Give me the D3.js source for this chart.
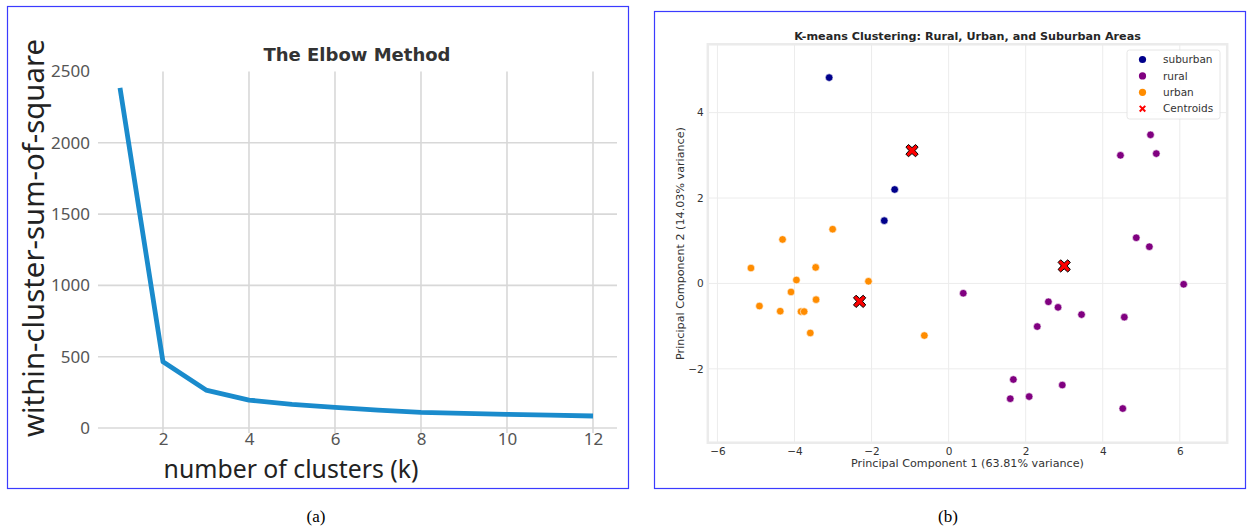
<!DOCTYPE html>
<html>
<head>
<meta charset="utf-8">
<script src="https://cdn.jsdelivr.net/npm/d3@7"></script>
<style>
  html, body { margin: 0; padding: 0; background: #fff; }
  svg { display: block; }
</style>
</head>
<body>
<svg id="fig" width="1247" height="528"></svg>
<script>
// ---------- Elbow curve data ----------
const kValues = [1, 2, 3, 4, 5, 6, 7, 8, 9, 10, 11, 12];
const wcssValues = [2385, 464, 266, 196, 166, 145, 126, 110, 103, 96, 90, 84];
const elbowXTicks = [2, 4, 6, 8, 10, 12];
const elbowYTicks = [0, 500, 1000, 1500, 2000, 2500];

// ---------- PCA scatter data ----------
const suburbanPC1 = [-3.10, -1.40, -1.67];
const suburbanPC2 = [4.82, 2.20, 1.47];
const ruralPC1 = [5.24, 4.46, 5.39, 4.87, 5.21, 6.10, 0.38, 2.59, 2.84, 3.45, 2.30, 4.56, 1.68, 1.60, 2.09, 2.95, 4.52];
const ruralPC2 = [3.48, 3.00, 3.04, 1.07, 0.86, -0.02, -0.23, -0.43, -0.56, -0.73, -1.01, -0.79, -2.25, -2.70, -2.65, -2.38, -2.93];
const urbanPC1 = [-3.01, -4.31, -5.13, -3.45, -3.95, -2.08, -4.09, -4.91, -3.44, -4.37, -3.83, -3.75, -3.59, -0.63];
const urbanPC2 = [1.27, 1.03, 0.36, 0.375, 0.08, 0.05, -0.20, -0.53, -0.38, -0.65, -0.66, -0.66, -1.16, -1.22];
const centroidPC1 = [-0.95, 3.00, -2.31];
const centroidPC2 = [3.11, 0.41, -0.42];
const pcXTicks = [-6, -4, -2, 0, 2, 4, 6];
const pcYTicks = [-2, 0, 2, 4];
const legendLabels = ["suburban", "rural", "urban", "Centroids"];
const legendColors = ["#00008b", "#800080", "#ff8c00", "#ff0000"];

const svg = d3.select("#fig");

// scale a text element's font size so it spans the requested width
function fitWidth(sel, width) {
  const node = sel.node();
  const fs = parseFloat(sel.attr("font-size"));
  const w = node.getComputedTextLength();
  sel.attr("font-size", (fs * width / w).toFixed(2));
}
const signed = d => String(d).replace("-", "\u2212");

// ---------- panel frames ----------
svg.append("rect").attr("x", 7.5).attr("y", 6.5).attr("width", 621).attr("height", 482)
  .attr("fill", "none").attr("stroke", "#3b3bff").attr("stroke-width", 1.2);
svg.append("rect").attr("x", 654.5).attr("y", 11.5).attr("width", 591).attr("height", 477)
  .attr("fill", "none").attr("stroke", "#3b3bff").attr("stroke-width", 1.2);

svg.append("text").attr("x", 316).attr("y", 522).attr("text-anchor", "middle")
  .attr("font-family", "Liberation Serif, serif").attr("font-size", 17).attr("fill", "#000").text("(a)");
svg.append("text").attr("x", 948).attr("y", 522).attr("text-anchor", "middle")
  .attr("font-family", "Liberation Serif, serif").attr("font-size", 17).attr("fill", "#000").text("(b)");

// ================= (a) Elbow method =================
(function () {
  const x = d3.scaleLinear().domain([1, 12]).range([120, 593]);
  const y = d3.scaleLinear().domain([0, 2500]).range([428, 71.5]);
  const g = svg.append("g");
  const gridColor = "#d8d8d8";

  // horizontal grid
  g.selectAll("line.hg").data(elbowYTicks.filter(v => v < 2500)).join("line")
    .attr("x1", 98).attr("x2", 617)
    .attr("y1", d => y(d)).attr("y2", d => y(d))
    .attr("stroke", gridColor).attr("stroke-width", 1.6);
  // vertical grid
  g.selectAll("line.vg").data(elbowXTicks).join("line")
    .attr("x1", d => x(d)).attr("x2", d => x(d))
    .attr("y1", y(2500)).attr("y2", y(-35))
    .attr("stroke", gridColor).attr("stroke-width", 1.6);

  // tick labels via axes (no domain / tick lines)
  const yAxis = g.append("g").attr("transform", "translate(98,0)")
    .call(d3.axisLeft(y).tickValues(elbowYTicks).tickSize(0).tickPadding(8).tickFormat(d => String(d)));
  yAxis.select(".domain").remove();
  yAxis.selectAll("text").attr("font-family", "Noto Sans, sans-serif").attr("font-size", 17).attr("fill", "#555");

  const xAxis = g.append("g").attr("transform", "translate(0,430)")
    .call(d3.axisBottom(x).tickValues(elbowXTicks).tickSize(0).tickPadding(3).tickFormat(d => String(d)));
  xAxis.select(".domain").remove();
  xAxis.selectAll("text").attr("font-family", "Noto Sans, sans-serif").attr("font-size", 17).attr("fill", "#555");

  // curve
  const line = d3.line().x((d, i) => x(kValues[i])).y(d => y(d));
  g.append("path").datum(wcssValues).attr("d", line)
    .attr("fill", "none").attr("stroke", "#1a8bcc").attr("stroke-width", 4.8)
    .attr("stroke-linejoin", "round").attr("stroke-linecap", "butt");

  // titles
  const t = g.append("text").attr("x", 357).attr("y", 61).attr("text-anchor", "middle")
    .attr("font-family", "DejaVu Sans, sans-serif").attr("font-weight", "bold")
    .attr("font-size", 16).attr("fill", "#333").text("The Elbow Method");
  fitWidth(t, 187);

  const xl = g.append("text").attr("x", 291).attr("y", 478).attr("text-anchor", "middle")
    .attr("font-family", "Noto Sans, sans-serif").attr("font-size", 24).attr("fill", "#222")
    .text("number of clusters (k)");
  fitWidth(xl, 255);

  const yl = g.append("text").attr("transform", "translate(44,238) rotate(-90)").attr("text-anchor", "middle")
    .attr("font-family", "Noto Sans, sans-serif").attr("font-size", 28).attr("fill", "#222")
    .text("within-cluster-sum-of-square");
  fitWidth(yl, 398);
})();

// ================= (b) K-means PCA scatter =================
(function () {
  const L = 707.8, R = 1227.2, T = 44.3, B = 442.7;
  const x = d3.scaleLinear().domain([-6.25, 7.23]).range([L, R]);
  const y = d3.scaleLinear().domain([-3.73, 5.60]).range([B, T]);
  const g = svg.append("g");
  const font = "DejaVu Sans, sans-serif";

  // grid
  g.selectAll("line.vg").data(pcXTicks).join("line")
    .attr("x1", d => x(d)).attr("x2", d => x(d)).attr("y1", T).attr("y2", B)
    .attr("stroke", "#ececec").attr("stroke-width", 1);
  g.selectAll("line.hg").data(pcYTicks).join("line")
    .attr("x1", L).attr("x2", R).attr("y1", d => y(d)).attr("y2", d => y(d))
    .attr("stroke", "#ececec").attr("stroke-width", 1);
  // axes frame
  g.append("rect").attr("x", L).attr("y", T).attr("width", R - L).attr("height", B - T)
    .attr("fill", "none").attr("stroke", "#ebebeb").attr("stroke-width", 2.5);

  const xAxis = g.append("g").attr("transform", `translate(0,${B})`)
    .call(d3.axisBottom(x).tickValues(pcXTicks).tickSize(0).tickPadding(5).tickFormat(signed));
  xAxis.select(".domain").remove();
  xAxis.selectAll("text").attr("font-family", font).attr("font-size", 10.5).attr("fill", "#333");

  const yAxis = g.append("g").attr("transform", `translate(${L},0)`)
    .call(d3.axisLeft(y).tickValues(pcYTicks).tickSize(0).tickPadding(4).tickFormat(signed));
  yAxis.select(".domain").remove();
  yAxis.selectAll("text").attr("font-family", font).attr("font-size", 10.5).attr("fill", "#333");

  // points
  const groups = [
    { xs: suburbanPC1, ys: suburbanPC2, color: legendColors[0] },
    { xs: ruralPC1, ys: ruralPC2, color: legendColors[1] },
    { xs: urbanPC1, ys: urbanPC2, color: legendColors[2] }
  ];
  groups.forEach(gr => {
    g.append("g").selectAll("circle").data(gr.xs).join("circle")
      .attr("cx", d => x(d)).attr("cy", (d, i) => y(gr.ys[i])).attr("r", 3.8)
      .attr("fill", gr.color).attr("stroke", "#fff").attr("stroke-width", 0.6);
  });

  // filled "X" marker for centroids
  const symbolBigX = {
    draw(ctx, size) {
      const r = Math.sqrt(size) / 2, w = r * 0.42;
      const pts = [[-r + w, -r], [0, -w * 1.15], [r - w, -r], [r, -r + w], [w * 1.15, 0], [r, r - w],
                   [r - w, r], [0, w * 1.15], [-r + w, r], [-r, r - w], [-w * 1.15, 0], [-r, -r + w]];
      ctx.moveTo(pts[0][0], pts[0][1]);
      for (let i = 1; i < pts.length; i++) ctx.lineTo(pts[i][0], pts[i][1]);
      ctx.closePath();
    }
  };
  g.append("g").selectAll("path").data(centroidPC1).join("path")
    .attr("transform", (d, i) => `translate(${x(d)},${y(centroidPC2[i])})`)
    .attr("d", d3.symbol(symbolBigX, 150))
    .attr("fill", "#ff0000").attr("stroke", "#000").attr("stroke-width", 1);

  // title and axis labels
  const t = g.append("text").attr("x", (L + R) / 2).attr("y", 40).attr("text-anchor", "middle")
    .attr("font-family", font).attr("font-weight", "bold").attr("font-size", 10.5).attr("fill", "#262626")
    .text("K-means Clustering: Rural, Urban, and Suburban Areas");
  fitWidth(t, 347);
  const xl = g.append("text").attr("x", (L + R) / 2).attr("y", 467).attr("text-anchor", "middle")
    .attr("font-family", font).attr("font-size", 10.5).attr("fill", "#333")
    .text("Principal Component 1 (63.81% variance)");
  fitWidth(xl, 233);
  const yl = g.append("text").attr("transform", `translate(684,${(T + B) / 2}) rotate(-90)`).attr("text-anchor", "middle")
    .attr("font-family", font).attr("font-size", 10.5).attr("fill", "#333")
    .text("Principal Component 2 (14.03% variance)");
  fitWidth(yl, 233);

  // legend
  const lg = g.append("g");
  lg.append("rect").attr("x", 1127).attr("y", 50).attr("width", 93).attr("height", 69).attr("rx", 2.5)
    .attr("fill", "#fff").attr("fill-opacity", 0.85).attr("stroke", "#e0e0e0").attr("stroke-width", 0.8);
  legendLabels.forEach((lab, i) => {
    const cy = 59.5 + i * 16.4;
    if (i < 3) {
      lg.append("circle").attr("cx", 1142.5).attr("cy", cy).attr("r", 3.6).attr("fill", legendColors[i]);
    } else {
      lg.append("path").attr("transform", `translate(1142.5,${cy})`)
        .attr("d", d3.symbol(d3.symbolX, 22)).attr("stroke", legendColors[i]).attr("stroke-width", 2).attr("fill", "none");
    }
    lg.append("text").attr("x", 1163).attr("y", cy).attr("dy", "0.36em")
      .attr("font-family", font).attr("font-size", 10.5).attr("fill", "#333").text(lab);
  });
})();
</script>
</body>
</html>
